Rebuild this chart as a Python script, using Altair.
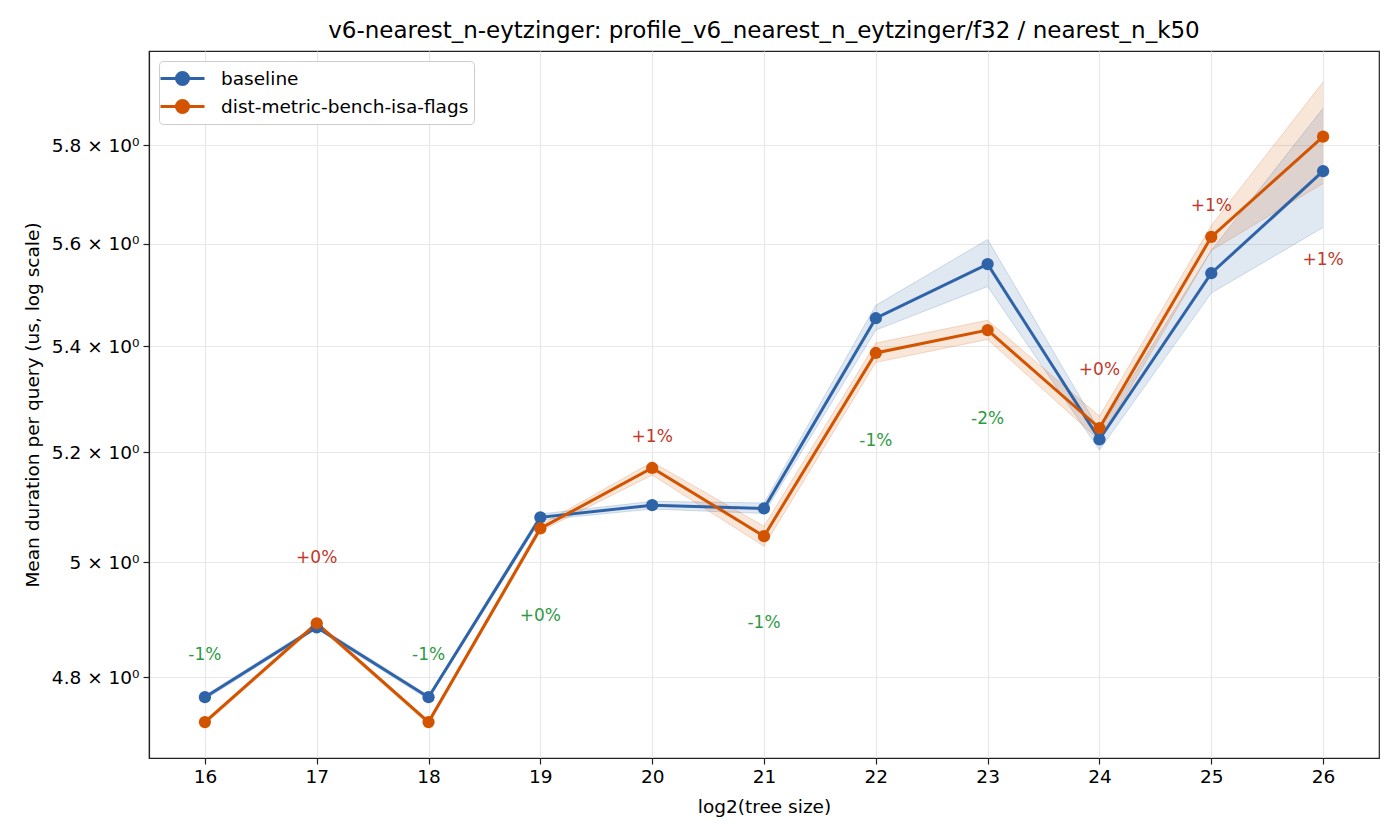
import altair as alt
import pandas as pd

# ---- data ----
tree_log2 = [16, 17, 18, 19, 20, 21, 22, 23, 24, 25, 26]

baseline_mean = [4.766, 4.886, 4.766, 5.081, 5.103, 5.097, 5.454, 5.560, 5.224, 5.542, 5.747]
baseline_lo   = [4.762, 4.883, 4.762, 5.076, 5.096, 5.088, 5.431, 5.516, 5.204, 5.503, 5.633]
baseline_hi   = [4.769, 4.890, 4.769, 5.087, 5.110, 5.107, 5.479, 5.609, 5.241, 5.587, 5.877]

branch_mean = [4.724, 4.893, 4.724, 5.061, 5.171, 5.047, 5.387, 5.431, 5.245, 5.614, 5.818]
branch_lo   = [4.720, 4.889, 4.720, 5.056, 5.158, 5.029, 5.369, 5.413, 5.222, 5.587, 5.722]
branch_hi   = [4.727, 4.896, 4.727, 5.067, 5.182, 5.065, 5.406, 5.450, 5.267, 5.637, 5.932]

delta_labels = ["-1%", "+0%", "-1%", "+0%", "+1%", "-1%", "-1%", "-2%", "+0%", "+1%", "+1%"]
delta_label_y = [4.838, 5.008, 4.838, 4.905, 5.228, 4.893, 5.220, 5.261, 5.354, 5.677, 5.569]

series_names = ["baseline", "dist-metric-bench-isa-flags"]
series_colors = ["#2f63a8", "#d35400"]
y_ticks = [4.8, 5.0, 5.2, 5.4, 5.6, 5.8]

# ---- tables ----
rows = []
for name, m, lo, hi in [
    (series_names[0], baseline_mean, baseline_lo, baseline_hi),
    (series_names[1], branch_mean, branch_lo, branch_hi),
]:
    for x, a, b, c in zip(tree_log2, m, lo, hi):
        rows.append({"x": x, "series": name, "mean": a, "lo": b, "hi": c})
df = pd.DataFrame(rows)

lab = pd.DataFrame({
    "x": tree_log2,
    "label": delta_labels,
    "ly": delta_label_y,
    "kind": ["faster" if b < a else "slower" for a, b in zip(baseline_mean, branch_mean)],
})

FONT = "DejaVu Sans"
FS = 18.5

xscale = alt.Scale(domain=[15.5, 26.5], nice=False, zero=False)
yscale = alt.Scale(type="log", domain=[4.664, 5.998], nice=False, zero=False)
cscale = alt.Scale(domain=series_names, range=series_colors)

xenc = alt.X("x:Q", scale=xscale, title="log2(tree size)",
             axis=alt.Axis(values=tree_log2, format="d", grid=True,
                           labelPadding=3, titlePadding=12))
yaxis = alt.Axis(
    values=y_ticks,
    labelExpr="datum.value == 5 ? '5 × 10⁰' : format(datum.value, '.1f') + ' × 10⁰'",
    grid=True,
    labelPadding=4,
    titlePadding=9,
)

legend_path = "M-2,0H2M-0.55,0A0.55,0.55 0 1,1 0.55,0A0.55,0.55 0 1,1 -0.55,0Z"


def make_legend():
    return alt.Legend(
        orient="top-left", offset=10,
        symbolType=legend_path, symbolSize=484, symbolStrokeWidth=3,
        symbolOpacity=1, symbolOffset=6,
        labelFontSize=FS, labelFont=FONT, labelColor="#000", labelLimit=0,
        fillColor="white", strokeColor="#cccccc", cornerRadius=4,
        padding=5, rowPadding=3, labelOffset=26,
    )


base = alt.Chart(df)

band = base.mark_area(opacity=0.15).encode(
    x=xenc,
    y=alt.Y("lo:Q", scale=yscale),
    y2="hi:Q",
    color=alt.Color("series:N", scale=cscale, legend=None),
)

band_edges = []
for col in ["lo", "hi"]:
    band_edges.append(
        base.mark_line(strokeWidth=1, opacity=0.2).encode(
            x=xenc,
            y=alt.Y(f"{col}:Q", scale=yscale),
            detail="series:N",
            color=alt.Color("series:N", scale=cscale, legend=None),
        )
    )

line = base.mark_line(strokeWidth=3).encode(
    x=xenc,
    y=alt.Y("mean:Q", scale=yscale,
            title="Mean duration per query (us, log scale)", axis=yaxis),
    stroke=alt.Stroke("series:N", scale=cscale, title=None, legend=make_legend()),
)

pts = base.mark_point(filled=True, size=150, opacity=1).encode(
    x=xenc,
    y=alt.Y("mean:Q", scale=yscale),
    fill=alt.Fill("series:N", scale=cscale, title=None, legend=make_legend()),
)

text = alt.Chart(lab).mark_text(fontSize=17, font=FONT, baseline="middle", align="center").encode(
    x=alt.X("x:Q", scale=xscale),
    y=alt.Y("ly:Q", scale=yscale),
    text="label:N",
    color=alt.Color("kind:N",
                    scale=alt.Scale(domain=["faster", "slower"], range=["#2e9a45", "#c0392b"]),
                    legend=None),
)

chart = (
    alt.layer(band, *band_edges, line, pts, text)
    .resolve_scale(color="independent")
    .properties(
        width=1230, height=707,
        autosize=alt.AutoSizeParams(type="none"),
        padding={"left": 149, "top": 51, "right": 21, "bottom": 82},
        title=alt.Title(
            "v6-nearest_n-eytzinger: profile_v6_nearest_n_eytzinger/f32 / nearest_n_k50",
            fontSize=23, font=FONT, fontWeight="normal", color="#000",
            anchor="middle", offset=8,
        ),
        background="white",
    )
    .configure_view(stroke="#222", strokeWidth=1.2)
    .configure_axis(
        labelFont=FONT, titleFont=FONT, labelFontSize=FS, titleFontSize=FS,
        labelColor="#000", titleColor="#000", titleFontWeight="normal",
        gridColor="#e8e8e8", gridWidth=1.2,
        tickColor="#222", tickSize=6, tickWidth=1.2,
        domainColor="#222", domainWidth=1.2,
    )
)

chart.save("out.html", embed_options={"renderer": "svg", "actions": False})
